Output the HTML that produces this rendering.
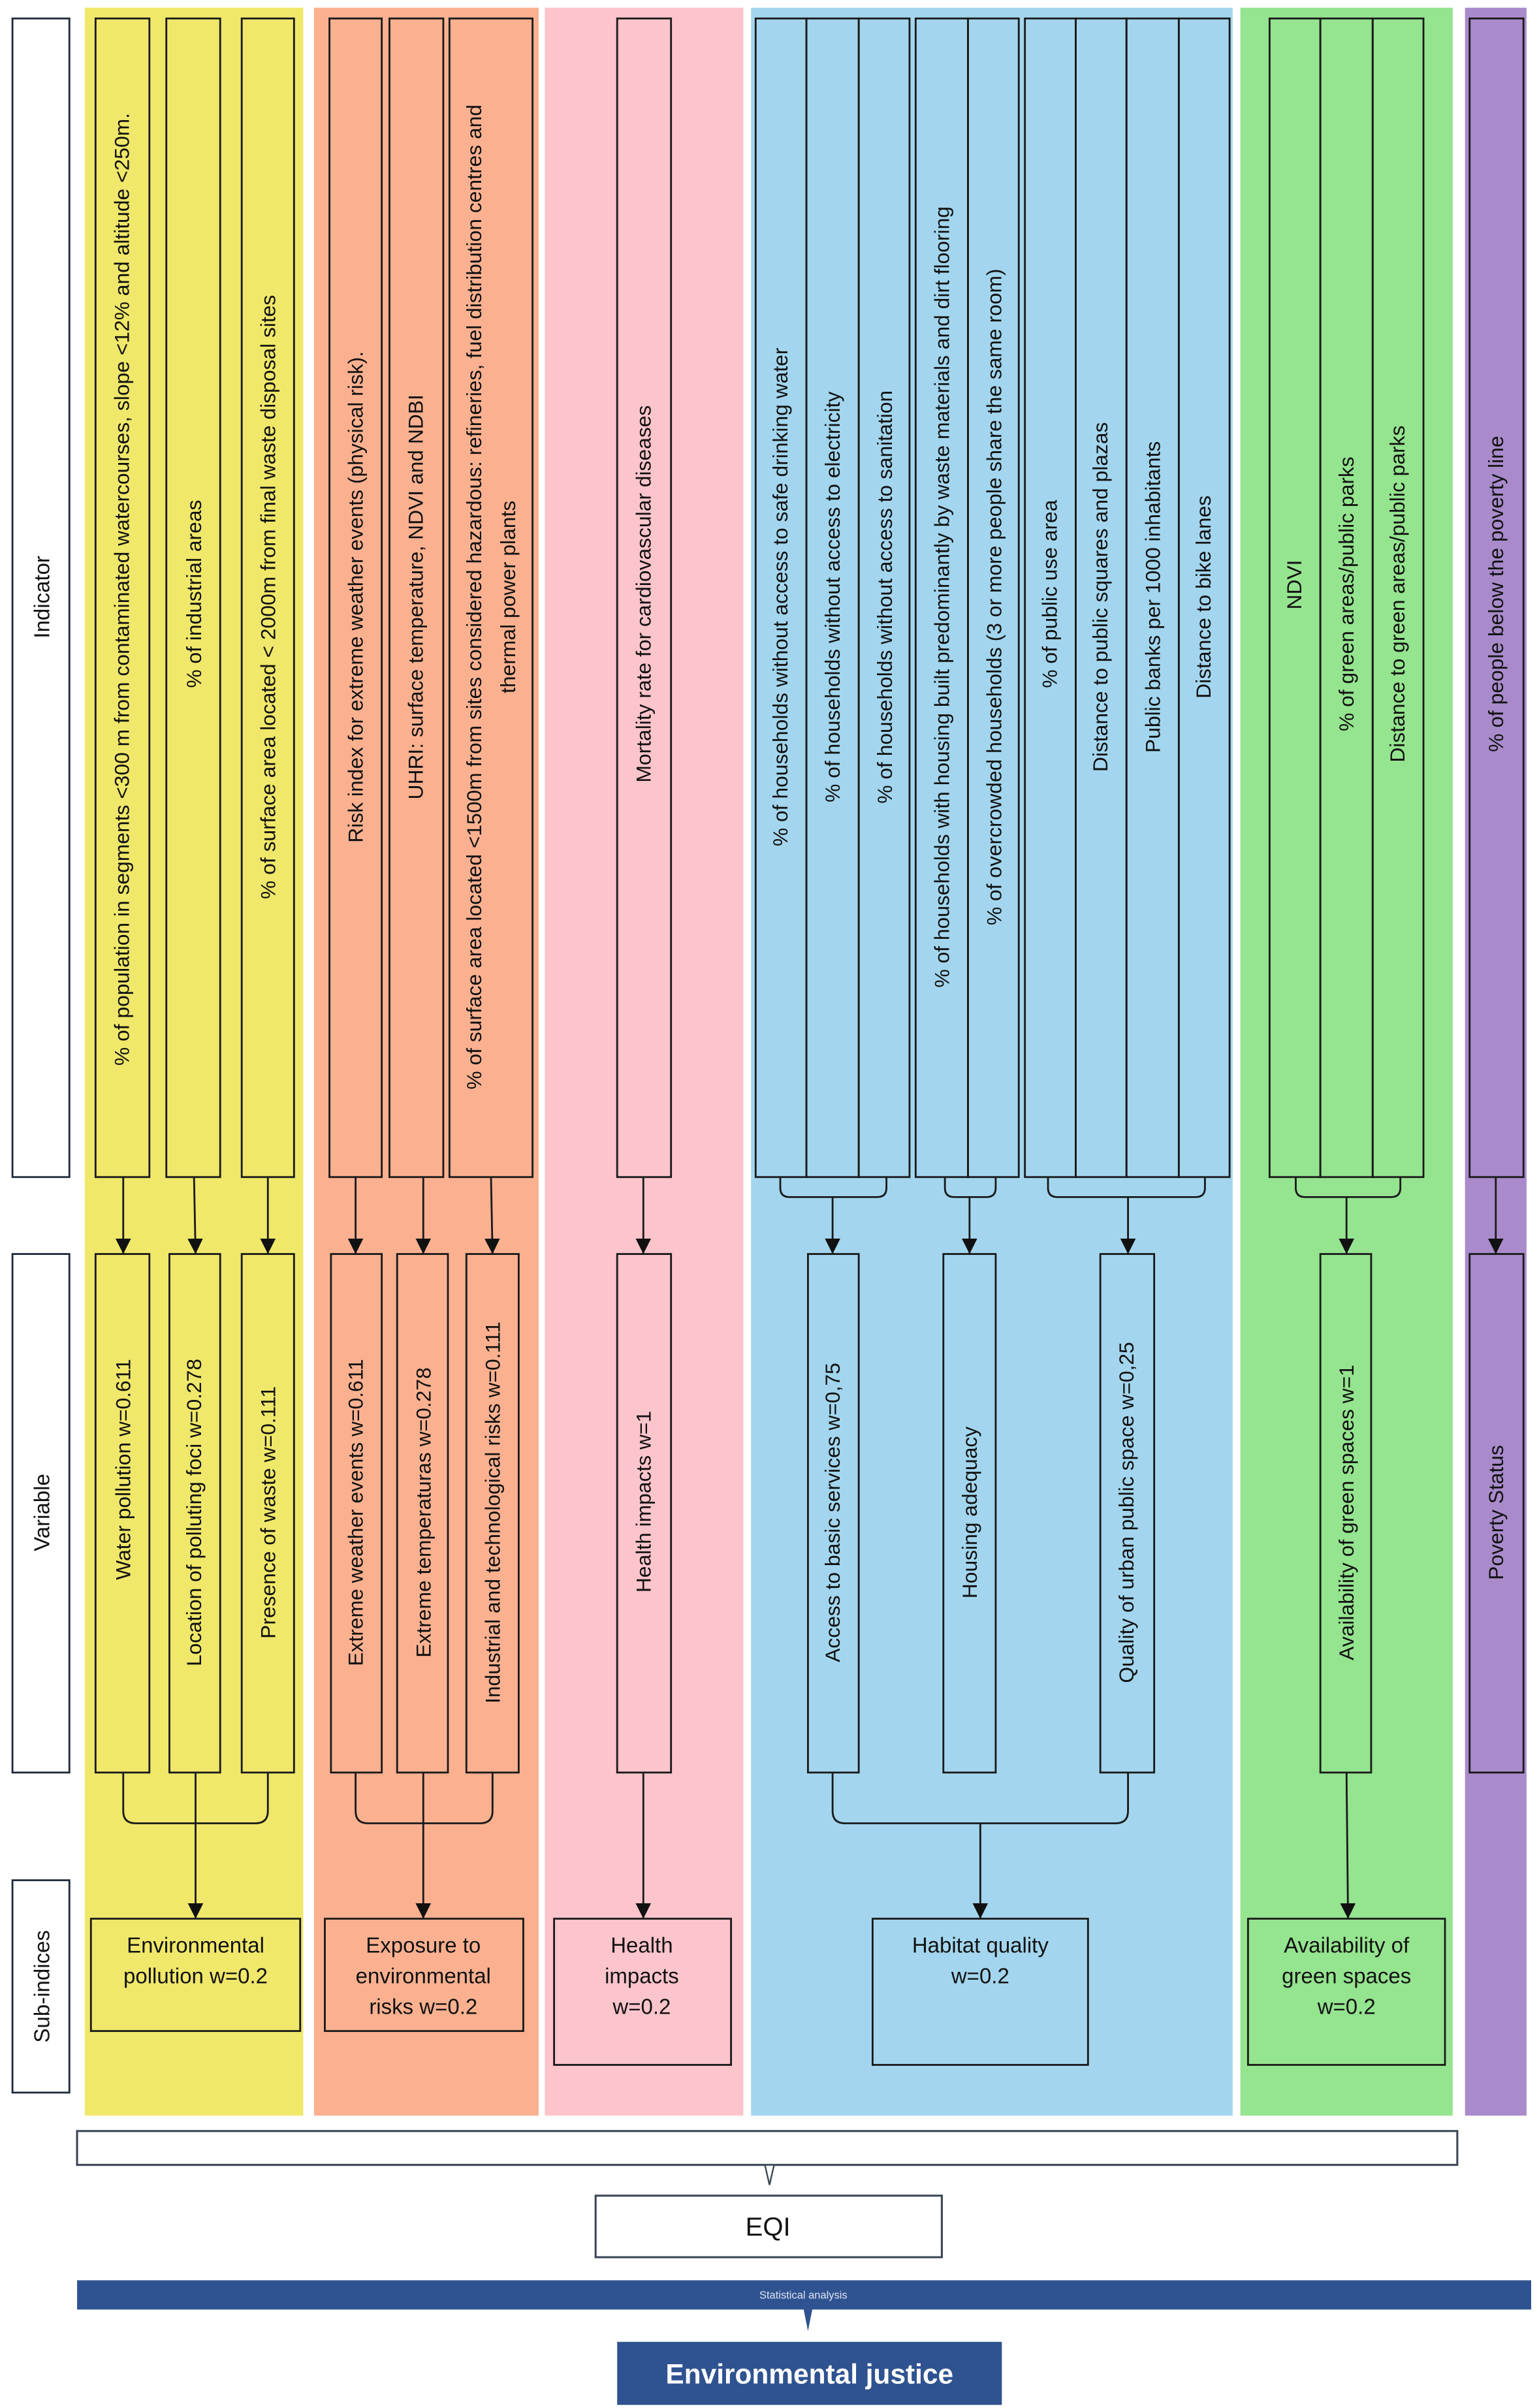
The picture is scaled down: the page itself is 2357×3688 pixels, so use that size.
<!DOCTYPE html>
<html><head><meta charset="utf-8"><style>
html,body{margin:0;padding:0;background:#fff}
svg{display:block}
text{font-family:"Liberation Sans",sans-serif;fill:#111}
</style></head><body>
<svg width="2357" height="3688" viewBox="0 0 1000 1565" xmlns="http://www.w3.org/2000/svg">
<defs>
<marker id="ah" markerWidth="10" markerHeight="10" refX="10" refY="5" orient="auto" markerUnits="userSpaceOnUse" viewBox="0 0 10 10">
<path d="M0 0 L10 5 L0 10 Z" fill="#111"/>
</marker>
</defs>
<g stroke="none">
<rect x="55" y="5" width="142" height="1370" fill="#f0e86a"/>
<rect x="204" y="5" width="146" height="1370" fill="#fbb190"/>
<rect x="354" y="5" width="129" height="1370" fill="#fcc4cb"/>
<rect x="488" y="5" width="313" height="1370" fill="#a3d6ee"/>
<rect x="806" y="5" width="138" height="1370" fill="#95e48f"/>
<rect x="952" y="5" width="40" height="1370" fill="#a98bcb"/>
</g>
<g fill="none" stroke="#1e2a3a" stroke-width="1.2">
<rect x="8" y="12" width="37" height="753" fill="#fff"/>
<rect x="8" y="815" width="37" height="337" fill="#fff"/>
<rect x="8" y="1222" width="37" height="138" fill="#fff"/>
</g>
<g font-size="14" text-anchor="middle" dominant-baseline="central">
<text transform="translate(27 388) rotate(-90)">Indicator</text>
<text transform="translate(27 983) rotate(-90)">Variable</text>
<text transform="translate(27 1291) rotate(-90)">Sub-indices</text>
</g>
<g fill="none" stroke="#1a1a1a" stroke-width="1.2">
<rect x="62" y="12" width="35" height="753"/><rect x="108" y="12" width="35" height="753"/><rect x="157" y="12" width="34" height="753"/>
<rect x="214" y="12" width="34" height="753"/><rect x="253" y="12" width="35" height="753"/><rect x="292" y="12" width="54" height="753"/>
<rect x="401" y="12" width="35" height="753"/>
<rect x="491" y="12" width="33" height="753"/><rect x="524" y="12" width="34" height="753"/><rect x="558" y="12" width="33" height="753"/>
<rect x="595" y="12" width="34" height="753"/><rect x="629" y="12" width="33" height="753"/>
<rect x="666" y="12" width="33" height="753"/><rect x="699" y="12" width="33" height="753"/><rect x="732" y="12" width="34" height="753"/><rect x="766" y="12" width="33" height="753"/>
<rect x="825" y="12" width="33" height="753"/><rect x="858" y="12" width="34" height="753"/><rect x="892" y="12" width="33" height="753"/>
<rect x="955" y="12" width="35" height="753"/>
</g>
<g font-size="13.5" text-anchor="middle" dominant-baseline="central">
<text transform="translate(79 383) rotate(-90)">% of population in segments &lt;300 m from contaminated watercourses, slope &lt;12% and altitude &lt;250m.</text>
<text transform="translate(126 386) rotate(-90)">% of industrial areas</text>
<text transform="translate(174 388) rotate(-90)">% of surface area located &lt; 2000m from final waste disposal sites</text>
<text transform="translate(231 388) rotate(-90)">Risk index for extreme weather events (physical risk).</text>
<text transform="translate(270 388) rotate(-90)">UHRI: surface temperature, NDVI and NDBI</text>
<text transform="translate(308 388) rotate(-90)">% of surface area located &lt;1500m from sites considered hazardous: refineries, fuel distribution centres and</text>
<text transform="translate(330 388) rotate(-90)">thermal power plants</text>
<text transform="translate(418 386) rotate(-90)">Mortality rate for cardiovascular diseases</text>
<text transform="translate(507 388) rotate(-90)">% of households without access to safe drinking water</text>
<text transform="translate(541 388) rotate(-90)">% of households without access to electricity</text>
<text transform="translate(575 388) rotate(-90)">% of households without access to sanitation</text>
<text transform="translate(612 388) rotate(-90)">% of households with housing built predominantly by waste materials and dirt flooring</text>
<text transform="translate(646 388) rotate(-90)">% of overcrowded households (3 or more people share the same room)</text>
<text transform="translate(682 386) rotate(-90)">% of public use area</text>
<text transform="translate(715 388) rotate(-90)">Distance to public squares and plazas</text>
<text transform="translate(749 388) rotate(-90)">Public banks per 1000 inhabitants</text>
<text transform="translate(782 388) rotate(-90)">Distance to bike lanes</text>
<text transform="translate(841 380) rotate(-90)">NDVI</text>
<text transform="translate(875 386) rotate(-90)">% of green areas/public parks</text>
<text transform="translate(908 386) rotate(-90)">Distance to green areas/public parks</text>
<text transform="translate(972 386) rotate(-90)">% of people below the poverty line</text>
</g>
<g fill="none" stroke="#1a1a1a" stroke-width="1.2">
<path d="M80 765 V815" marker-end="url(#ah)"/>
<path d="M126 765 L127 815" marker-end="url(#ah)"/>
<path d="M174 765 V815" marker-end="url(#ah)"/>
<path d="M231 765 V815" marker-end="url(#ah)"/>
<path d="M275 765 V815" marker-end="url(#ah)"/>
<path d="M319 765 L320 815" marker-end="url(#ah)"/>
<path d="M418 765 V815" marker-end="url(#ah)"/>
<path d="M972 765 V815" marker-end="url(#ah)"/>
<path d="M507 765 V772 Q507 778 513 778 H570 Q576 778 576 772 V765"/>
<path d="M541 778 V815" marker-end="url(#ah)"/>
<path d="M614 765 V772 Q614 778 620 778 H641 Q647 778 647 772 V765"/>
<path d="M630 778 V815" marker-end="url(#ah)"/>
<path d="M681 765 V772 Q681 778 687 778 H777 Q783 778 783 772 V765"/>
<path d="M733 778 V815" marker-end="url(#ah)"/>
<path d="M842 765 V772 Q842 778 848 778 H904 Q910 778 910 772 V765"/>
<path d="M875 778 V815" marker-end="url(#ah)"/>
</g>
<g fill="none" stroke="#1a1a1a" stroke-width="1.2">
<rect x="62" y="815" width="35" height="337"/><rect x="110" y="815" width="33" height="337"/><rect x="157" y="815" width="34" height="337"/>
<rect x="215" y="815" width="33" height="337"/><rect x="258" y="815" width="33" height="337"/><rect x="303" y="815" width="34" height="337"/>
<rect x="401" y="815" width="35" height="337"/>
<rect x="525" y="815" width="33" height="337"/><rect x="613" y="815" width="34" height="337"/><rect x="715" y="815" width="35" height="337"/>
<rect x="858" y="815" width="33" height="337"/>
<rect x="955" y="815" width="35" height="337"/>
</g>
<g font-size="13.5" text-anchor="middle" dominant-baseline="central">
<text transform="translate(80 955) rotate(-90)">Water pollution w=0.611</text>
<text transform="translate(126 983) rotate(-90)">Location of polluting foci w=0.278</text>
<text transform="translate(174 983) rotate(-90)">Presence of waste w=0.111</text>
<text transform="translate(231 983) rotate(-90)">Extreme weather events w=0.611</text>
<text transform="translate(275 983) rotate(-90)">Extreme temperaturas w=0.278</text>
<text transform="translate(320 983) rotate(-90)">Industrial and technological risks w=0.111</text>
<text transform="translate(418 976) rotate(-90)">Health impacts w=1</text>
<text transform="translate(541 983) rotate(-90)">Access to basic services w=0,75</text>
<text transform="translate(630 983) rotate(-90)">Housing adequacy</text>
<text transform="translate(732 983) rotate(-90)">Quality of urban public space w=0,25</text>
<text transform="translate(875 983) rotate(-90)">Availability of green spaces w=1</text>
<text transform="translate(972 983) rotate(-90)">Poverty Status</text>
</g>
<g fill="none" stroke="#1a1a1a" stroke-width="1.2">
<path d="M80 1152 V1177 Q80 1185 88 1185 H166 Q174 1185 174 1177 V1152"/>
<path d="M127 1152 V1247" marker-end="url(#ah)"/>
<path d="M231 1152 V1177 Q231 1185 239 1185 H312 Q320 1185 320 1177 V1152"/>
<path d="M275 1152 V1247" marker-end="url(#ah)"/>
<path d="M418 1152 V1247" marker-end="url(#ah)"/>
<path d="M541 1152 V1177 Q541 1185 549 1185 H725 Q733 1185 733 1177 V1152"/>
<path d="M637 1185 V1247" marker-end="url(#ah)"/>
<path d="M875 1152 L876 1247" marker-end="url(#ah)"/>
</g>
<g fill="none" stroke="#1a1a1a" stroke-width="1.2">
<rect x="59" y="1247" width="136" height="73"/>
<rect x="211" y="1247" width="129" height="73"/>
<rect x="360" y="1247" width="115" height="95"/>
<rect x="567" y="1247" width="140" height="95"/>
<rect x="811" y="1247" width="128" height="95"/>
</g>
<g font-size="14" text-anchor="middle">
<text x="127" y="1269">Environmental</text><text x="127" y="1289">pollution w=0.2</text>
<text x="275" y="1269">Exposure to</text><text x="275" y="1289">environmental</text><text x="275" y="1309">risks w=0.2</text>
<text x="417" y="1269">Health</text><text x="417" y="1289">impacts</text><text x="417" y="1309">w=0.2</text>
<text x="637" y="1269">Habitat quality</text><text x="637" y="1289">w=0.2</text>
<text x="875" y="1269">Availability of</text><text x="875" y="1289">green spaces</text><text x="875" y="1309">w=0.2</text>
</g>
<rect x="50" y="1385" width="897" height="22" fill="#fff" stroke="#3a4656" stroke-width="1.3"/>
<path d="M497 1407 L500 1420 L503 1407 Z" fill="#fff" stroke="#3a4656" stroke-width="1"/>
<rect x="387" y="1427" width="225" height="40" fill="#fff" stroke="#3a4656" stroke-width="1.3"/>
<text x="499" y="1453" font-size="17" text-anchor="middle">EQI</text>
<rect x="50" y="1482" width="945" height="19" fill="#2f5390"/>
<text x="522" y="1494" font-size="7" text-anchor="middle" style="fill:#dfe6f2">Statistical analysis</text>
<path d="M522 1500 L525 1515 L528 1500 Z" fill="#2f5390"/>
<rect x="401" y="1522" width="250" height="41" fill="#2f5390"/>
<text x="526" y="1549" font-size="18" font-weight="bold" text-anchor="middle" style="fill:#fff">Environmental justice</text>
</svg>
</body></html>
